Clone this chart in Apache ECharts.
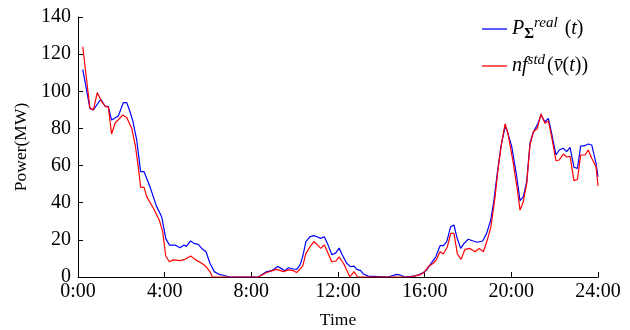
<!DOCTYPE html>
<html>
<head>
<meta charset="utf-8">
<script src="https://cdn.jsdelivr.net/npm/echarts@6/dist/echarts.min.js"></script>
<style>html,body{margin:0;padding:0;background:#fff}#c{width:630px;height:330px}</style>
</head>
<body>
<div id="c"></div>
<script>
// Time in hours, values in MW
const blueTimes = [0.22,0.55,0.71,1.05,1.25,1.4,1.55,1.86,2.09,2.25,2.4,2.52,2.71,2.89,3.05,3.32,3.63,3.86,4.05,4.22,4.48,4.71,4.89,5.0,5.2,5.35,5.55,5.71,5.91,6.09,6.29,6.52,6.75,7.0,8.32,8.71,8.94,9.22,9.45,9.55,9.71,9.94,10.09,10.25,10.37,10.52,10.71,10.89,11.03,11.2,11.37,11.51,11.72,11.9,12.05,12.2,12.4,12.58,12.74,12.86,13.05,13.17,13.4,14.3,14.71,14.86,15.1,15.5,15.75,15.94,16.09,16.25,16.52,16.71,16.86,17.02,17.2,17.35,17.48,17.66,17.82,18.01,18.24,18.43,18.68,18.86,19.05,19.2,19.35,19.52,19.71,19.8,20.02,20.25,20.4,20.55,20.71,20.86,21.02,21.2,21.37,21.55,21.71,21.86,22.06,22.21,22.4,22.55,22.71,22.89,23.05,23.2,23.4,23.55,23.71,23.91,24.0];
const blueValues = [111.8,90.8,90,95.7,92,91.7,84.5,86.7,93.9,93.9,89,84.5,73.8,56.7,56.7,48.6,37.9,32.5,20.8,17.2,17.2,15.8,17.2,16.5,19.4,18.1,17.6,15.4,13.6,7.4,2.9,1.4,0.8,0,0,2.9,3.4,5.6,4.1,3.4,5.0,4.3,4.1,6.5,11,19,21.7,22.3,21.7,20.8,21.7,18.1,12,13,15.6,11.8,7.4,5.6,5.9,4.1,3.4,1.6,0.5,0,1.4,1.1,0,0.5,1.3,2.4,3.8,6.5,11,16.9,16.9,19,27.1,28,21.7,15.4,18.1,20.3,19.4,18.7,19.4,23.5,30.7,41.5,55.8,70.2,80.9,79,70.2,54,41.1,43.2,51.3,72,78.2,81.9,87.2,83.6,85.4,77.4,65.7,68.4,69.3,67.5,69.8,59.1,58.5,70.5,70.7,71.6,71.1,61.2,54];
const redTimes = [0.22,0.55,0.71,0.89,1.09,1.28,1.4,1.55,1.71,2.06,2.25,2.48,2.65,2.78,2.89,3.05,3.17,3.48,3.75,3.91,4.05,4.22,4.4,4.71,4.94,5.03,5.2,5.4,5.71,5.91,6.09,6.2,8.32,8.71,9.17,9.48,9.71,9.94,10.09,10.37,10.52,10.71,10.89,11.03,11.2,11.37,11.51,11.71,11.9,12.05,12.25,12.4,12.55,12.74,12.9,15.32,15.78,15.97,16.17,16.4,16.55,16.71,16.86,17.05,17.2,17.35,17.51,17.68,17.86,18.09,18.32,18.52,18.71,18.89,19.06,19.25,19.4,19.55,19.71,19.85,20.08,20.28,20.4,20.55,20.71,20.86,21.02,21.2,21.37,21.55,21.71,21.86,22.06,22.21,22.4,22.55,22.71,22.89,23.05,23.2,23.4,23.55,23.71,23.91,24.0];
const redValues = [124,91,90,99.3,94.4,91.7,91.5,77,82.8,87.2,85.9,80,70.5,59.4,48.3,48.3,43.3,37,30.7,24.4,11.3,8.2,9.2,8.8,9.5,8.7,11.3,9.5,7.4,5.6,2.9,0,0,2.4,4.1,2.9,3.8,3.4,2.4,5.9,12.7,16.3,19,17.6,15.4,17.2,13.6,8.2,8.6,10.8,7.4,3.8,0,2.9,0,0,1.1,2.4,5.6,7.4,9.5,13.6,12.4,16.3,23.5,23.5,12.4,9.5,14.9,15.4,13.6,15.4,13.6,19.9,27.1,43.2,59.4,72,82.5,77,62,46.8,36,40.5,50.4,71,78.2,80,87.8,82.8,84,75.6,62.6,63,66.2,64.6,65,51.9,52.5,65.7,65.7,68.4,63.9,59.4,49];
const xTicks = [0,4,8,12,16,20,24];
const yTicks = [0,20,40,60,80,100,120,140];

const serif = "'Liberation Serif', 'DejaVu Serif', serif";
const toPairs = (t, v) => t.map((h, i) => [h, v[i]]);

const chart = echarts.init(document.getElementById('c'), null, {renderer: 'canvas'});
chart.setOption({
  animation: false,
  backgroundColor: '#fff',
  textStyle: {fontFamily: serif, color: '#000'},
  grid: {left: 78, right: 32, top: 17, bottom: 53, containLabel: false, outerBoundsMode: 'none'},
  legend: {
    orient: 'vertical',
    left: 477,
    top: 11,
    icon: 'rect',
    itemWidth: 25,
    itemHeight: 1.3,
    itemGap: 11,
    data: ['P', 'nf'],
    formatter: function (name) {
      if (name === 'P') return '{it|P}{sub|Σ}{sup|real}{rm| (}{it|t}{rm|)}';
      return '{it|nf}{sup|std}{rm|(}{it|v̄}{rm|(}{it|t}{rm|))}';
    },
    textStyle: {
      color: '#000',
      fontFamily: serif,
      fontSize: 20,
      rich: {
        it: {fontFamily: serif, fontStyle: 'italic', fontSize: 20, color: '#000', lineHeight: 26, verticalAlign: 'middle'},
        rm: {fontFamily: serif, fontStyle: 'normal', fontSize: 20, color: '#000', lineHeight: 26, verticalAlign: 'middle'},
        sup: {fontFamily: serif, fontStyle: 'italic', fontSize: 15, color: '#000', lineHeight: 14, verticalAlign: 'top', padding: [0, 2, 0, 0]},
        sub: {fontFamily: serif, fontWeight: 'bold', fontSize: 15, color: '#000', lineHeight: 14, verticalAlign: 'bottom', padding: [10, 0, 0, 0]}
      }
    }
  },
  xAxis: {
    type: 'value',
    min: 0, max: 24, interval: 4,
    name: 'Time',
    nameLocation: 'middle',
    nameGap: 34,
    nameTextStyle: {fontFamily: serif, fontSize: 17.5, color: '#000'},
    axisLine: {show: true, lineStyle: {color: '#000', width: 1}},
    axisTick: {show: true, inside: true, length: 5, lineStyle: {color: '#000'}},
    axisLabel: {
      fontFamily: serif, fontSize: 20, color: '#000', margin: 5,
      formatter: v => xTicks.includes(v) ? v + ':00' : ''
    },
    splitLine: {show: false}
  },
  yAxis: {
    type: 'value',
    min: 0, max: 140, interval: 20,
    name: 'Power(MW)',
    nameLocation: 'middle',
    nameGap: 47,
    nameTextStyle: {fontFamily: serif, fontSize: 17.5, color: '#000'},
    axisLine: {show: true, lineStyle: {color: '#000', width: 1}},
    axisTick: {show: true, inside: true, length: 5, lineStyle: {color: '#000'}},
    axisLabel: {
      fontFamily: serif, fontSize: 20, color: '#000', margin: 7,
      formatter: v => yTicks.includes(v) ? String(v) : ''
    },
    splitLine: {show: false}
  },
  series: [
    {
      name: 'P', type: 'line', data: toPairs(blueTimes, blueValues),
      symbol: 'none', lineStyle: {color: '#0000ff', width: 1.2}, itemStyle: {color: '#0000ff'}
    },
    {
      name: 'nf', type: 'line', data: toPairs(redTimes, redValues),
      symbol: 'none', lineStyle: {color: '#ff0000', width: 1.2}, itemStyle: {color: '#ff0000'}
    }
  ]
});
</script>
</body>
</html>
